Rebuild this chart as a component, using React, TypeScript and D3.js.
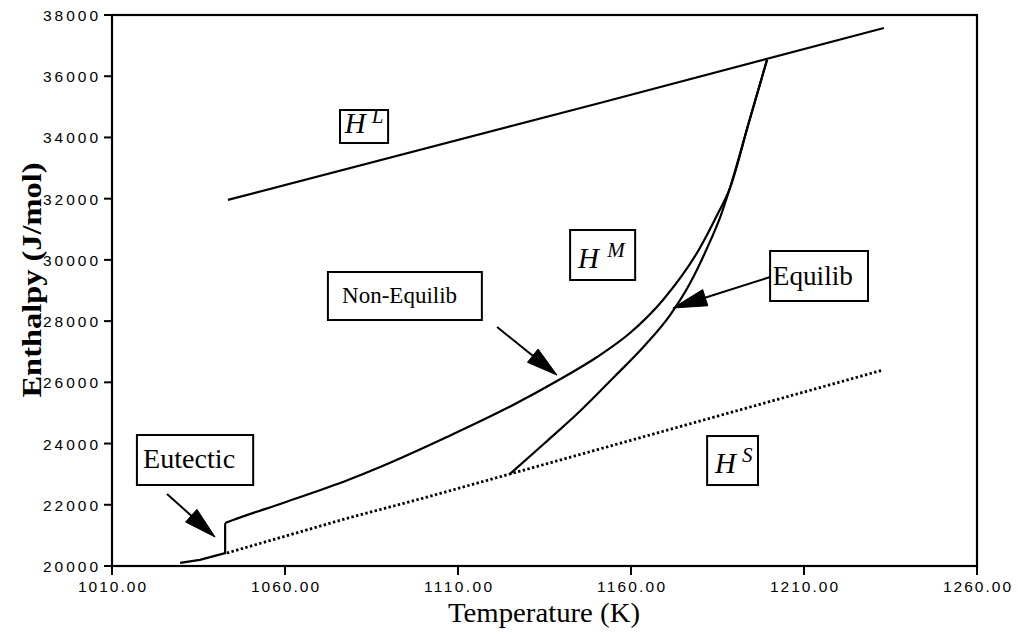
import React from "react";
import * as d3 from "d3";

// ---- data ----
const xTicks = [1010, 1060, 1110, 1160, 1210, 1260];
const xTickLabels = ["1010.00", "1060.00", "1110.00", "1160.00", "1210.00", "1260.00"];
const yTicks = [20000, 22000, 24000, 26000, 28000, 30000, 32000, 34000, 36000, 38000];
const yTickLabels = ["20000", "22000", "24000", "26000", "28000", "30000", "32000", "34000", "36000", "38000"];

const liquidT = [1043.5, 1151.0, 1233.1];
const liquidH = [31960, 35125, 37575];

const solidT = [1043.2, 1078.2, 1099.0, 1125.0, 1232.8];
const solidH = [20424, 21567, 22188, 23005, 26402];

const eutecticT = [1029.7, 1035.4, 1042.7, 1042.7];
const eutecticH = [20100, 20200, 20420, 21400];

const nonEquilT = [1042.7, 1045.0, 1059.4, 1078.2, 1087.5, 1106.8, 1125.9, 1138.6, 1150.2, 1159.7, 1169.3, 1179.9, 1184.9, 1188.6, 1194.1, 1199.3];
const nonEquilH = [21404, 21502, 22058, 22808, 23233, 24213, 25258, 26043, 26827, 27611, 28700, 30388, 31466, 32348, 34504, 36530];

const equilT = [1125.0, 1135.1, 1145.3, 1155.4, 1164.1, 1171.3, 1177.1, 1182.0, 1186.0, 1188.6, 1194.1, 1199.3];
const equilH = [23005, 24018, 25063, 26206, 27219, 28199, 29244, 30388, 31466, 32348, 34504, 36530];

// ---- layout ----
const W = 1018, H = 635;
const x = d3.scaleLinear().domain([1010, 1260]).range([112, 977]);
const y = d3.scaleLinear().domain([20000, 38000]).range([566, 15]);

const zip = (ts: number[], hs: number[]) => ts.map((t, i) => [t, hs[i]] as [number, number]);

const linLine = d3.line<[number, number]>().x(d => x(d[0])).y(d => y(d[1]));
const smoothLine = d3.line<[number, number]>().x(d => x(d[0])).y(d => y(d[1])).curve(d3.curveMonotoneX);

const serif = "'Liberation Serif', 'Times New Roman', serif";
const sans = "'Liberation Sans', Arial, sans-serif";

function Arrow({ t0, h0, t1, h1, len, hw }: { t0: number; h0: number; t1: number; h1: number; len: number; hw: number }) {
  const ax = x(t0), ay = y(h0), bx = x(t1), by = y(h1);
  const dx = bx - ax, dy = by - ay;
  const d = Math.hypot(dx, dy);
  const ux = dx / d, uy = dy / d;
  const nx = -uy, ny = ux;
  const cx = bx - ux * len, cy = by - uy * len;
  const pts = `${bx},${by} ${cx + nx * hw},${cy + ny * hw} ${cx - nx * hw},${cy - ny * hw}`;
  return (
    <g>
      <line x1={ax} y1={ay} x2={cx + ux * 2} y2={cy + uy * 2} stroke="#000" strokeWidth={2} />
      <polygon points={pts} fill="#000" stroke="#000" strokeWidth={1} strokeLinejoin="miter" />
    </g>
  );
}

function Box({ t0, t1, h0, h1 }: { t0: number; t1: number; h0: number; h1: number }) {
  return (
    <rect x={x(t0)} y={y(h0)} width={x(t1) - x(t0)} height={y(h1) - y(h0)} fill="#fff" stroke="#000" strokeWidth={2} />
  );
}

function HLabel({ t, h, st, sh, sup }: { t: number; h: number; st: number; sh: number; sup: string }) {
  return (
    <g fontFamily={serif} fontStyle="italic" fill="#000">
      <text x={x(t)} y={y(h)} fontSize={29}>H</text>
      <text x={x(st)} y={y(sh)} fontSize={21}>{sup}</text>
    </g>
  );
}

export default function App() {
  return (
    <svg width={W} height={H} style={{ position: "absolute", left: 0, top: 0, display: "block", background: "#fff" }}>
      <rect x={0} y={0} width={W} height={H} fill="#fff" />

      {/* curves */}
      <path d={linLine(zip(liquidT, liquidH)) || ""} fill="none" stroke="#000" strokeWidth={2.2} />
      <path d={linLine(zip(solidT, solidH)) || ""} fill="none" stroke="#000" strokeWidth={2.8} strokeDasharray="2.4,2.4" />
      <path d={linLine(zip(eutecticT, eutecticH)) || ""} fill="none" stroke="#000" strokeWidth={2.2} />
      <path d={smoothLine(zip(nonEquilT, nonEquilH)) || ""} fill="none" stroke="#000" strokeWidth={2.2} />
      <path d={smoothLine(zip(equilT, equilH)) || ""} fill="none" stroke="#000" strokeWidth={2.2} />

      {/* frame */}
      <rect x={x(1010)} y={y(38000)} width={x(1260) - x(1010)} height={y(20000) - y(38000)} fill="none" stroke="#000" strokeWidth={2.2} />

      {/* y ticks */}
      {yTicks.map((v, i) => (
        <g key={"y" + v}>
          <line x1={x(1010) - 8} x2={x(1010)} y1={y(v)} y2={y(v)} stroke="#000" strokeWidth={2} />
          <text x={98} y={y(v) + 6} textAnchor="end" fontFamily={sans} fontSize={15.5} textLength={55} lengthAdjust="spacing" fill="#000">
            {yTickLabels[i]}
          </text>
        </g>
      ))}

      {/* x ticks */}
      {xTicks.map((v, i) => (
        <g key={"x" + v}>
          <line x1={x(v)} x2={x(v)} y1={y(20000)} y2={y(20000) + 9} stroke="#000" strokeWidth={2} />
          <text x={x(v)} y={592} textAnchor="middle" fontFamily={sans} fontSize={15.5} textLength={68} lengthAdjust="spacing" fill="#000">
            {xTickLabels[i]}
          </text>
        </g>
      ))}

      {/* axis titles */}
      <text x={544} y={622} textAnchor="middle" fontFamily={serif} fontSize={27} textLength={192} lengthAdjust="spacingAndGlyphs" fill="#000">
        Temperature (K)
      </text>
      <text transform="translate(41,280) rotate(-90)" textAnchor="middle" fontFamily={serif} fontWeight="bold" fontSize={27} textLength={235} lengthAdjust="spacingAndGlyphs" fill="#000">
        Enthalpy (J/mol)
      </text>

      {/* annotations */}
      <Box t0={1017.2} t1={1050.8} h0={24279} h1={22646} />
      <text x={x(1019.0)} y={y(23201)} fontFamily={serif} fontSize={28} textLength={92} lengthAdjust="spacingAndGlyphs" fill="#000">Eutectic</text>
      <Arrow t0={1025.9} h0={22352} t1={1039.8} h1={20947} len={32} hw={8.5} />

      <Box t0={1072.4} t1={1116.9} h0={29604} h1={28036} />
      <text x={x(1076.5)} y={y(28591)} fontFamily={serif} fontSize={24} textLength={115} lengthAdjust="spacingAndGlyphs" fill="#000">Non-Equilib</text>
      <Arrow t0={1121.3} h0={27805} t1={1138.6} h1={26237} len={31} hw={8.5} />

      <Box t0={1200.2} t1={1228.5} h0={30290} h1={28657} />
      <text x={x(1201.0)} y={y(29179)} fontFamily={serif} fontSize={28} textLength={80} lengthAdjust="spacingAndGlyphs" fill="#000">Equilib</text>
      <Arrow t0={1200.2} h0={29441} t1={1172.1} h1={28428} len={34} hw={8.5} />

      <Box t0={1075.9} t1={1089.8} h0={34896} h1={33818} />
      <HLabel t={1077.3} h={34145} st={1085.1} sh={34472} sup="L" />

      <Box t0={1142.4} t1={1161.2} h0={30976} h1={29343} />
      <HLabel t={1144.7} h={29735} st={1153.1} sh={30094} sup="M" />

      <Box t0={1182.0} t1={1196.7} h0={24246} h1={22645} />
      <HLabel t={1184.3} h={23037} st={1192.1} sh={23397} sup="S" />
    </svg>
  );
}
